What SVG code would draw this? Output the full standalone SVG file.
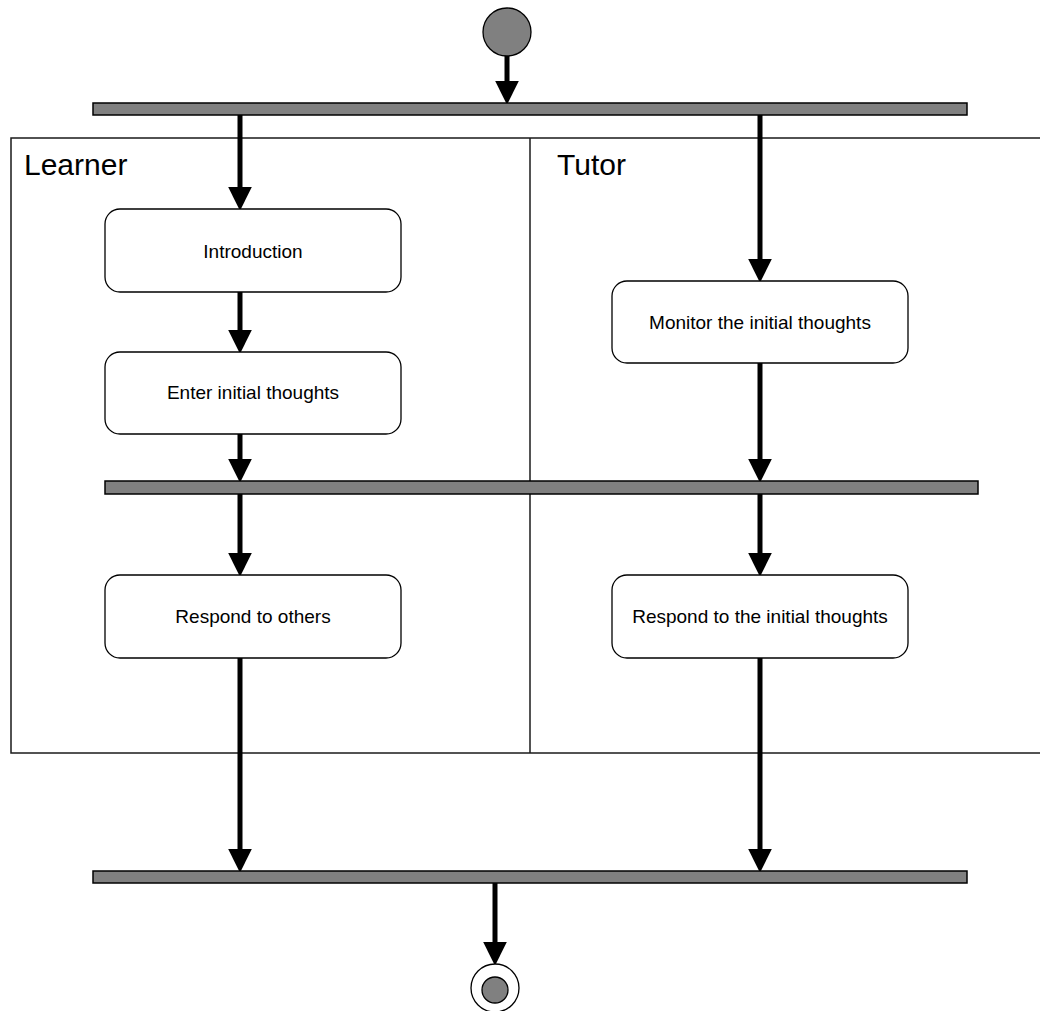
<svg xmlns="http://www.w3.org/2000/svg" width="1040" height="1011" viewBox="0 0 1040 1011">
<style>
.lane{fill:none;stroke:#1a1a1a;stroke-width:1.5}
.bar{fill:#808080;stroke:#000;stroke-width:1.5}
.act{fill:#fff;stroke:#000;stroke-width:1.3}
.lbl{font-family:"Liberation Sans",Arial,sans-serif;font-size:19px;fill:#000;text-anchor:middle}
.lanelbl{font-family:"Liberation Sans",Arial,sans-serif;font-size:30px;fill:#000}
.edge{stroke:#000;stroke-width:5;fill:none;marker-end:url(#ah)}
</style>
<defs>
<marker id="ah" markerUnits="userSpaceOnUse" markerWidth="24" markerHeight="24" refX="4" refY="11" orient="auto" viewBox="0 0 22 22">
<path d="M0,0 L22,11 L0,22 z" fill="#000"/>
</marker>
</defs>
<g id="swimlanes">
<rect class="lane" x="11" y="138" width="1040" height="615"/>
<line class="lane" x1="530" y1="138" x2="530" y2="753"/>
<text class="lanelbl" x="24" y="175">Learner</text>
<text class="lanelbl" x="557" y="175">Tutor</text>
</g>
<g id="connectors">
<line class="edge" x1="507" y1="55" x2="507" y2="85"/>
<line class="edge" x1="240" y1="115" x2="240" y2="191"/>
<line class="edge" x1="760" y1="115" x2="760" y2="263"/>
<line class="edge" x1="240" y1="292" x2="240" y2="334"/>
<line class="edge" x1="240" y1="434" x2="240" y2="463"/>
<line class="edge" x1="760" y1="363" x2="760" y2="463"/>
<line class="edge" x1="240" y1="494" x2="240" y2="557"/>
<line class="edge" x1="760" y1="494" x2="760" y2="557"/>
<line class="edge" x1="240" y1="658" x2="240" y2="853"/>
<line class="edge" x1="760" y1="658" x2="760" y2="853"/>
<line class="edge" x1="495" y1="883" x2="495" y2="946"/>
</g>
<g id="start"><circle cx="507" cy="32" r="24" fill="#808080" stroke="#000" stroke-width="1.3"/></g>
<g id="fork1"><rect class="bar" x="93" y="103" width="874" height="12"/></g>
<g id="introduction"><rect class="act" x="105" y="209" width="296" height="83" rx="15"/><text class="lbl" x="253" y="258">Introduction</text></g>
<g id="enter"><rect class="act" x="105" y="352" width="296" height="82" rx="15"/><text class="lbl" x="253" y="399">Enter initial thoughts</text></g>
<g id="monitor"><rect class="act" x="612" y="281" width="296" height="82" rx="15"/><text class="lbl" x="760" y="329">Monitor the initial thoughts</text></g>
<g id="sync"><rect class="bar" x="105" y="481" width="873" height="13"/></g>
<g id="respondOthers"><rect class="act" x="105" y="575" width="296" height="83" rx="15"/><text class="lbl" x="253" y="623">Respond to others</text></g>
<g id="respondInitial"><rect class="act" x="612" y="575" width="296" height="83" rx="15"/><text class="lbl" x="760" y="623">Respond to the initial thoughts</text></g>
<g id="join"><rect class="bar" x="93" y="871" width="874" height="12"/></g>
<g id="end"><circle cx="495" cy="988" r="24" fill="#fff" stroke="#000" stroke-width="1.3"/><circle cx="495" cy="990" r="13" fill="#808080" stroke="#000" stroke-width="1.3"/></g>
</svg>
